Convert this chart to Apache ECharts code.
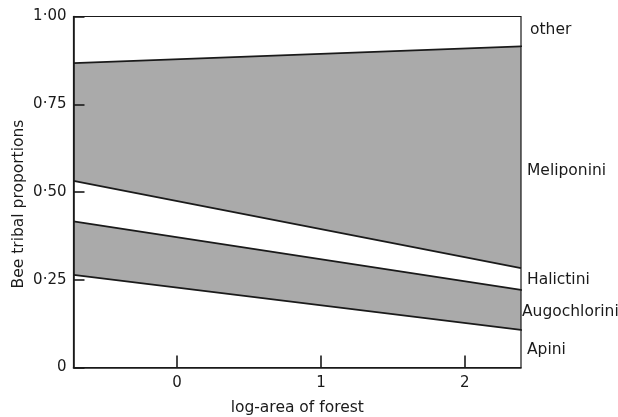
<!DOCTYPE html>
<html>
<head>
<meta charset="utf-8">
<script src="https://cdn.jsdelivr.net/npm/echarts@6/dist/echarts.min.js"></script>
<style>
  html, body { margin: 0; padding: 0; background: #fff; }
  #chart { width: 618px; height: 417px; }
</style>
</head>
<body>
<div id="chart"></div>
<script>
// log-area of forest at the two ends of the fitted range
const forestLogArea = [-0.72, 2.39];

// Tribal proportions at each end (bottom of the stack first)
const apini        = [0.264, 0.107];
const augochlorini = [0.152, 0.114];
const halictini    = [0.116, 0.062];
const meliponini   = [0.335, 0.632];
const other        = [0.133, 0.085];

const tribeNames = ['Apini', 'Augochlorini', 'Halictini', 'Meliponini', 'other'];
const tribeValues = [apini, augochlorini, halictini, meliponini, other];
const shadedTribes = ['Augochlorini', 'Meliponini'];

// Vertical positions of the tribe names beside the right frame
const tribeLabelY = [0.05, 0.158, 0.25, 0.56, 0.962];

// Boundaries that carry a short guide stroke past the right frame
const guideTribes = ['Apini', 'Augochlorini', 'Meliponini'];

const xTicks = [0, 1, 2];
const yTicks = [0, 0.25, 0.5, 0.75, 1];

const FONT = 'DejaVu Sans';
const INK = '#1a1a1a';
const SHADE = '#aaaaaa';

const xMin = forestLogArea[0];
const xMax = forestLogArea[1];

// cumulative upper boundary of every tribe at each end
const upper = [];
tribeValues.forEach((v, i) => {
  upper.push(v.map((p, j) => (i === 0 ? 0 : upper[i - 1][j]) + p));
});

// Each upper boundary is drawn as a line filled down to zero. The series are
// listed top tribe first, so each lower tribe paints over the ones above it and
// every band keeps its own fill between consecutive boundaries.
const bandSeries = tribeNames.slice(0, 4).map((name, i) => ({
  name: name,
  type: 'line',
  symbol: 'none',
  silent: true,
  data: forestLogArea.map((x, j) => [x, upper[i][j]]),
  lineStyle: { color: INK, width: 1.8 },
  areaStyle: {
    color: shadedTribes.includes(name) ? SHADE : '#ffffff',
    opacity: 1,
    origin: 'start'
  },
  z: 2
})).reverse();

const guideSeries = guideTribes.map(name => {
  const y = upper[tribeNames.indexOf(name)][1];
  return {
    type: 'line',
    symbol: 'none',
    silent: true,
    clip: false,
    data: [[xMax, y], [xMax + 0.085, y]],
    lineStyle: { color: INK, width: 1.5 },
    z: 3
  };
});

const labelSeries = {
  type: 'scatter',
  symbolSize: 0,
  silent: true,
  clip: false,
  itemStyle: { opacity: 1 },
  data: tribeNames.map((name, i) => ({
    value: [xMax, tribeLabelY[i]],
    label: {
      formatter: name,
      offset: name === 'Augochlorini' ? [-5, 0] : (name === 'other' ? [3, 0] : [0, 0])
    }
  })),
  label: {
    show: true,
    position: 'right',
    distance: 6,
    color: INK,
    opacity: 1,
    fontFamily: FONT,
    fontSize: 15.5
  },
  z: 3
};

const chart = echarts.init(document.getElementById('chart'), null, { renderer: 'canvas' });
chart.setOption({
  animation: false,
  backgroundColor: '#ffffff',
  grid: {
    left: 73.5, right: 97, top: 16.5, bottom: 49.5,
    outerBoundsMode: 'none',
    containLabel: false,
    show: true, z: 5, borderColor: INK, borderWidth: 1.2, backgroundColor: 'transparent'
  },
  xAxis: {
    type: 'value',
    z: 6,
    min: xMin,
    max: xMax,
    name: 'log-area of forest',
    nameLocation: 'middle',
    nameGap: 32,
    nameMoveOverlap: false,
    nameTextStyle: { color: INK, fontFamily: FONT, fontSize: 15.5 },
    axisLine: { show: true, onZero: false, lineStyle: { color: INK, width: 1.6 } },
    axisTick: { show: true, inside: true, length: 12, customValues: xTicks, lineStyle: { color: INK, width: 1.6 } },
    axisLabel: { customValues: xTicks, color: INK, fontFamily: FONT, fontSize: 15, margin: 8, formatter: v => String(v) },
    splitLine: { show: false }
  },
  yAxis: {
    type: 'value',
    z: 6,
    min: 0,
    max: 1,
    interval: 0.25,
    name: 'Bee tribal proportions',
    nameLocation: 'middle',
    nameGap: 47,
    nameMoveOverlap: false,
    nameTextStyle: { color: INK, fontFamily: FONT, fontSize: 15.5, padding: [0, 24, 0, 0] },
    axisLine: { show: true, onZero: false, lineStyle: { color: INK, width: 1.6 } },
    axisTick: { show: true, inside: true, length: 11, customValues: yTicks, lineStyle: { color: INK, width: 1.6 } },
    axisLabel: {
      customValues: yTicks,
      color: INK, fontFamily: FONT, fontSize: 15, margin: 7,
      formatter: v => (v === 0 ? '0' : v.toFixed(2).replace('.', '\u00b7'))
    },
    splitLine: { show: false }
  },
  series: [...bandSeries, ...guideSeries, labelSeries]
});
</script>
</body>
</html>
